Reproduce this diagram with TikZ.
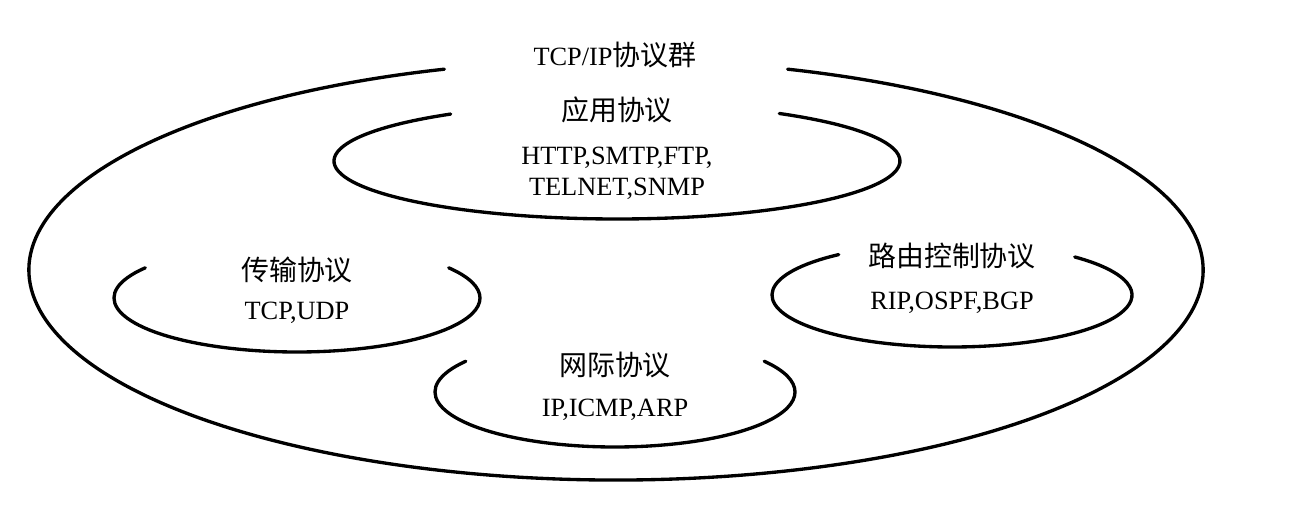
\documentclass[tikz,border=0pt]{standalone}
\usepackage{fontspec}
\setmainfont{Liberation Serif}
\newfontfamily\cjk[Scale=1.06]{Noto Sans CJK SC}
\tikzset{
  ring/.style={line width=1.9pt, line cap=round},
  lbl/.style={font=\fontsize{15}{17.5}\selectfont, inner sep=0pt, align=center}
}

\begin{document}
\begin{tikzpicture}[x=0.02cm, y=0.02cm]
            \useasboundingbox (0,0) rectangle (1297,517);
            % outer ring, open at the top
            \draw[ring] (616,247) ++(107:587 and 210) arc[start angle=107, end angle=433, x radius=587, y radius=210];
            % application
            \draw[ring] (617,356) ++(126:283 and 58) arc[start angle=126, end angle=415, x radius=283, y radius=58];
            % transport
            \draw[ring] (297,219) ++(146:183 and 54) arc[start angle=146, end angle=394, x radius=183, y radius=54];
            % routing
            \draw[ring] (952,222) ++(129:180 and 52) arc[start angle=129, end angle=407, x radius=180, y radius=52];
            % internet
            \draw[ring] (615,125) ++(146:180 and 55) arc[start angle=146, end angle=394, x radius=180, y radius=55];

            \node[lbl] (suite) at (615,462) {TCP/IP{\cjk 协议群}};
            \node[lbl] (app) at (617,407) {\cjk 应用协议};
            \node[lbl] (applist) at (617,344) {HTTP,SMTP,FTP,\\TELNET,SNMP};
            \node[lbl] (trans) at (297,247) {\cjk 传输协议};
            \node[lbl] (translist) at (297,204) {TCP,UDP};
            \node[lbl] (route) at (952,261) {\cjk 路由控制协议};
            \node[lbl] (routelist) at (952,214) {RIP,OSPF,BGP};
            \node[lbl] (net) at (615,152) {\cjk 网际协议};
            \node[lbl] (netlist) at (615,107) {IP,ICMP,ARP};
        \end{tikzpicture}
\end{document}
